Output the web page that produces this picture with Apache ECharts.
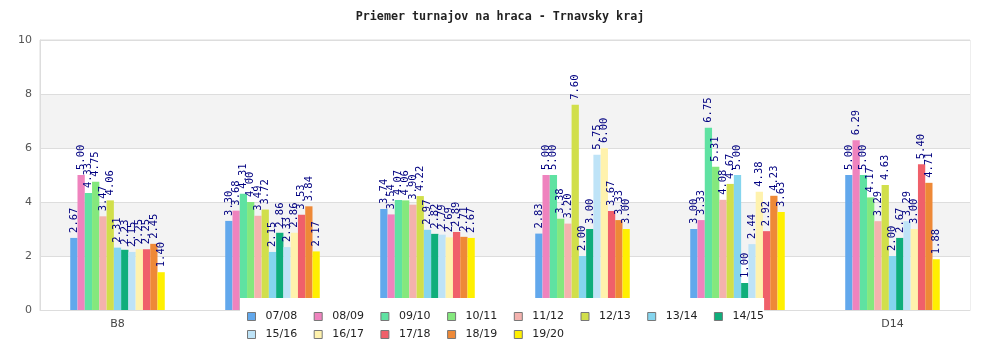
<!DOCTYPE html>
<html>
<head>
<meta charset="utf-8">
<script src="https://cdn.jsdelivr.net/npm/echarts@6/dist/echarts.min.js"></script>
<style>
  html, body { margin: 0; padding: 0; background: #fff; }
  #chart { width: 1000px; height: 350px; }
</style>
</head>
<body>
<div id="chart"></div>
<script>
// Age categories on the x axis
const categories = ['B8', 'B10', 'B12', 'B14', 'D10', 'D14'];

// Seasons (one bar series each)
const seasons = ['07/08', '08/09', '09/10', '10/11', '11/12', '12/13', '13/14',
                 '14/15', '15/16', '16/17', '17/18', '18/19', '19/20'];

// Average tournaments per player, one array per season, in category order
const v0708 = [2.67, 3.30, 3.74, 2.83, 3.00, 5.00];
const v0809 = [5.00, 3.68, 3.54, 5.00, 3.33, 6.29];
const v0910 = [4.33, 4.31, 4.07, 5.00, 6.75, 5.00];
const v1011 = [4.75, 4.00, 4.06, 3.38, 5.31, 4.17];
const v1112 = [3.47, 3.49, 3.90, 3.20, 4.08, 3.29];
const v1213 = [4.06, 3.72, 4.22, 7.60, 4.67, 4.63];
const v1314 = [2.31, 2.15, 2.97, 2.00, 5.00, 2.00];
const v1415 = [2.23, 2.86, 2.82, 3.00, 1.00, 2.67];
const v1516 = [2.15, 2.33, 2.79, 5.75, 2.44, 3.29];
const v1617 = [2.25, 2.86, 2.69, 6.00, 4.38, 3.00];
const v1718 = [2.25, 3.53, 2.89, 3.67, 2.92, 5.40];
const v1819 = [2.45, 3.84, 2.71, 3.33, 4.23, 4.71];
const v1920 = [1.40, 2.17, 2.67, 3.00, 3.63, 1.88];

const seasonValues = [v0708, v0809, v0910, v1011, v1112, v1213, v1314,
                      v1415, v1516, v1617, v1718, v1819, v1920];

// Y axis ticks
const yTicks = [0, 2, 4, 6, 8, 10];

const colors = ['#62a8ec', '#ef83be', '#5fe2a2', '#84e87d', '#f4b2ae', '#d1df4b', '#85d5ee',
                '#0fae7b', '#bee3f7', '#fff2ad', '#f0606a', '#ee8937', '#fff000'];

const chart = echarts.init(document.getElementById('chart'), null, { renderer: 'canvas' });

const series = seasons.map((name, i) => ({
  name: name,
  type: 'bar',
  data: seasonValues[i],
  barGap: '0%',
  barCategoryGap: '39%',
  itemStyle: { color: colors[i] },
  label: {
    show: true,
    position: 'top',
    rotate: 90,
    align: 'left',
    verticalAlign: 'middle',
    distance: 5,
    color: '#000080',
    fontFamily: 'DejaVu Sans Mono',
    fontSize: 10.5,
    formatter: p => p.value.toFixed(2)
  }
}));

// Legend split in two rows; each row has a white box laid over the plot bottom
const legendCommon = {
  orient: 'horizontal',
  left: 240,
  icon: 'rect',
  itemWidth: 8,
  itemHeight: 8,
  itemGap: 16.5,
  backgroundColor: '#ffffff',
  itemStyle: { borderColor: '#777', borderWidth: 1 },
  textStyle: { color: '#222', fontSize: 11, fontFamily: 'DejaVu Sans', padding: [0, 0, 0, 5] },
  z: 10
};

chart.setOption({
  animation: false,
  color: colors,
  title: {
    text: 'Priemer turnajov na hraca - Trnavsky kraj',
    left: 'center',
    top: 6,
    textStyle: { fontFamily: 'DejaVu Sans Mono', fontSize: 11.7, fontWeight: 'bold', color: '#222' }
  },
  legend: [
    Object.assign({}, legendCommon, {
      data: seasons.slice(0, 8),
      top: 298,
      padding: [13, 0, 6, 7]
    }),
    Object.assign({}, legendCommon, {
      data: seasons.slice(8),
      top: 327,
      padding: [2, 0, 8, 7],
      z: 11
    })
  ],
  grid: {
    left: 40, right: 30, top: 40, bottom: 40,
    show: true,
    borderColor: '#dddddd',
    borderWidth: 1,
    backgroundColor: 'transparent'
  },
  xAxis: {
    type: 'category',
    data: categories,
    axisLine: { lineStyle: { color: '#dddddd' } },
    axisTick: { show: false },
    axisLabel: { color: '#444', fontSize: 11, fontFamily: 'DejaVu Sans', margin: 9 }
  },
  yAxis: {
    type: 'value',
    min: yTicks[0],
    max: yTicks[yTicks.length - 1],
    interval: 2,
    axisLine: { show: true, lineStyle: { color: '#dddddd' } },
    axisTick: { show: false },
    axisLabel: { color: '#555', fontSize: 11, fontFamily: 'DejaVu Sans', margin: 8 },
    splitLine: { lineStyle: { color: '#dddddd' } },
    splitArea: { show: true, areaStyle: { color: ['#ffffff', '#f3f3f3'] } }
  },
  series: series
});
</script>
</body>
</html>
